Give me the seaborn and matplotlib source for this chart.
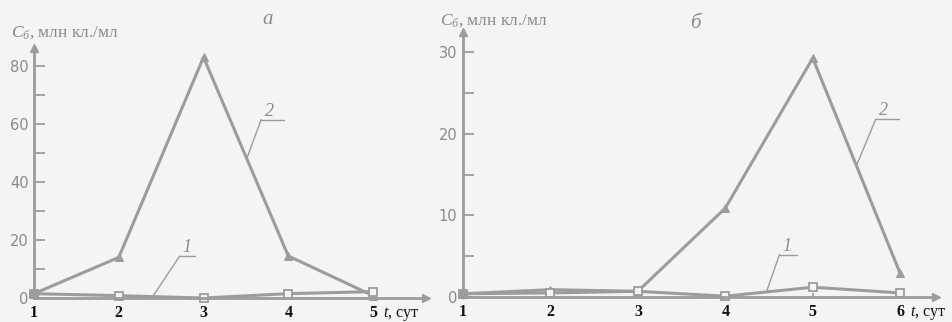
import matplotlib
matplotlib.use("Agg")
import matplotlib.pyplot as plt
import matplotlib.transforms as mtransforms
import seaborn as sns
import numpy as np

# ---- data ----
days_a = [1, 2, 3, 4, 5]
s1_a = [1.5, 0.8, 0.0, 1.5, 2.2]
s2_a = [1.5, 14.0, 83.0, 14.5, 0.8]

days_b = [1, 2, 3, 4, 5, 6]
s1_b = [0.4, 0.5, 0.7, 0.1, 1.2, 0.5]
s2_b = [0.4, 0.9, 0.7, 10.9, 29.3, 2.9]

yticks_a = [0, 20, 40, 60, 80]
yticks_b = [0, 10, 20, 30]
panel_titles = ["а", "б"]
ylabel_unit = ", млн кл./мл"
xlabel_unit = ", сут"

sns.set_theme(style="white")
plt.rcParams['font.family'] = ['DejaVu Sans']
plt.rcParams['mathtext.fontset'] = 'custom'
plt.rcParams['mathtext.rm'] = 'Liberation Serif'
plt.rcParams['mathtext.it'] = 'Liberation Serif:italic'

BG = "#f4f4f4"
GRAY = "#9c9c9c"
TXT = "#8a8a8a"

fig = plt.figure(figsize=(9.53, 3.22), dpi=100, facecolor=BG)
ax_a = fig.add_axes([34/953, 24/322, (425.6-34)/953, 250/322])
ax_b = fig.add_axes([463/953, 25/322, (936-463)/953, 265/322])


def style_axes(ax, xmax, ymax, yticks, minor_step, days):
    ax.set_facecolor(BG)
    ax.set_xlim(1, xmax)
    ax.set_ylim(0, ymax)
    for s in ["top", "right"]:
        ax.spines[s].set_visible(False)
    for s in ["left", "bottom"]:
        ax.spines[s].set_color(GRAY)
        ax.spines[s].set_linewidth(2)
    ax.set_yticks(yticks)
    ax.set_yticks(np.arange(minor_step, yticks[-1], minor_step * 2), minor=True)
    ax.tick_params(axis="y", which="both", direction="in", length=8, width=1.3,
                   color=GRAY, labelcolor=TXT, labelsize=10.5, pad=4, left=True)
    ax.set_xticks(days)
    ax.set_xticklabels([str(d) for d in days], fontfamily="Liberation Serif",
                       fontweight="bold", fontsize=11.5, color="#111111")
    ax.tick_params(axis="x", direction="in", length=3, color=GRAY, pad=5, bottom=True)
    ax.set_xlabel("")
    ax.set_ylabel("")
    # axis arrows
    ax.plot(1, 0, marker=">", color=GRAY, markersize=6, transform=ax.transAxes, clip_on=False)
    ax.plot(0, 1, marker="^", color=GRAY, markersize=6, transform=ax.transAxes, clip_on=False)
    # x unit label after the last tick
    trans = mtransforms.blended_transform_factory(ax.transData, ax.transAxes)
    ax.annotate("$t$" + xlabel_unit, xy=(days[-1], 0), xycoords=trans,
                xytext=(7, -13.5), textcoords="offset points", ha="left", va="baseline",
                fontfamily="Liberation Serif", fontsize=11.5, color="#111111")


def draw_series(ax, days, s1, s2):
    sns.lineplot(x=days, y=s2, ax=ax, color=GRAY, linewidth=2.2, marker="^",
                 markersize=6, markeredgecolor=GRAY, markerfacecolor=GRAY, clip_on=False)
    sns.lineplot(x=days, y=s1, ax=ax, color=GRAY, linewidth=2.2, marker="s",
                 markersize=5.5, markeredgecolor=GRAY, markerfacecolor=BG,
                 markeredgewidth=1.3, clip_on=False)
    ax.plot(days[0], s1[0], marker="o", color=GRAY, markersize=6, clip_on=False)


style_axes(ax_a, 5.62, 86.2, yticks_a, 10, days_a)
style_axes(ax_b, 6.41, 32.5, yticks_b, 5, days_b)
draw_series(ax_a, days_a, s1_a, s2_a)
draw_series(ax_b, days_b, s1_b, s2_b)


# curve labels with leader lines and underlines
def labelled(ax, label, days, vals, xpos, tx, ty, ulen):
    y = np.interp(xpos, days, vals)
    ax.plot([xpos, tx], [y, ty], color=GRAY, lw=1.0)
    ax.plot([tx, tx + ulen], [ty, ty], color=GRAY, lw=1.0)
    ax.text(tx + ulen * 0.15, ty, label, ha="left", va="bottom", fontsize=13,
            fontstyle="italic", fontfamily="Liberation Serif", color=TXT)

labelled(ax_a, "2", days_a, s2_a, 3.51, 3.68, 61.5, 0.27)
labelled(ax_a, "1", days_a, s1_a, 2.40, 2.72, 14.5, 0.18)
labelled(ax_b, "2", days_b, s2_b, 5.50, 5.72, 21.8, 0.27)
labelled(ax_b, "1", days_b, s1_b, 4.47, 4.62, 5.2, 0.2)

# panel letters
fig.text(268/953, 1 - 20/322, panel_titles[0], ha="center", va="center",
         fontsize=15, fontstyle="italic", fontfamily="Liberation Serif", color=TXT)
fig.text(695/953, 1 - 24/322, panel_titles[1], ha="center", va="center",
         fontsize=15, fontstyle="italic", fontfamily="Liberation Serif", color=TXT)

# y-axis labels
for (px, py) in [(11, 33), (440, 21)]:
    fig.text(px/953, 1 - py/322, "$C_{б}$" + ylabel_unit, ha="left", va="center",
             fontsize=12.5, fontfamily="Liberation Serif", color=TXT)

fig.savefig("out.png", dpi=100, facecolor=BG)
